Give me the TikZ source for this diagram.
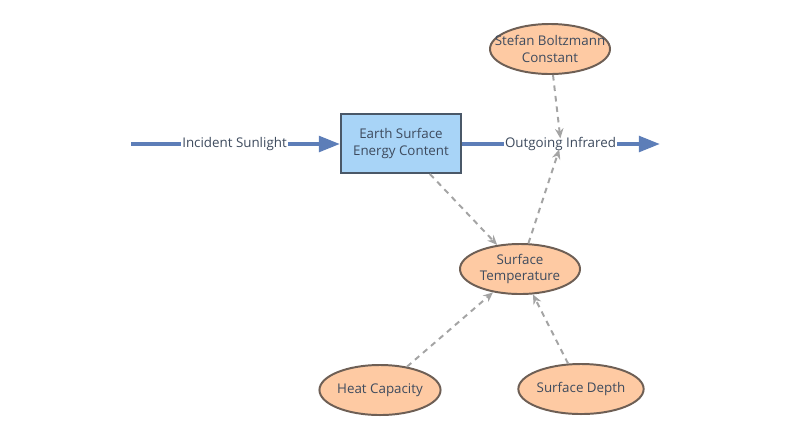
\documentclass[tikz,border=0pt]{standalone}
\usepackage{fontspec}
\setmainfont{Open Sans}
\usetikzlibrary{arrows.meta,shapes.geometric}

\definecolor{stockfill}{HTML}{A8D4F7}
\definecolor{stockline}{HTML}{4A5868}
\definecolor{auxfill}{HTML}{FECAA3}
\definecolor{auxline}{HTML}{6E5F55}
\definecolor{flowcol}{HTML}{5D7EB8}
\definecolor{linkcol}{HTML}{A4A4A4}
\definecolor{txt}{HTML}{3E4B5E}

\tikzset{
	stock/.style={draw=stockline, fill=stockfill, line width=1.4pt, minimum width=3cm, minimum height=1.475cm, align=center, text=txt, font=\fontsize{9.5}{12}\selectfont},
	aux/.style={ellipse, draw=auxline, fill=auxfill, line width=1.4pt, minimum width=3cm, minimum height=1.25cm, inner sep=0pt, align=center, text=txt, font=\fontsize{9.5}{12}\selectfont},
	flow/.style={draw=flowcol, line width=2.8pt, -{Triangle[length=15pt,width=11pt]}},
	flowlabel/.style={fill=white, inner sep=1pt, text=txt, font=\fontsize{9.5}{12}\selectfont},
	link/.style={draw=linkcol, line width=1.4pt, dash pattern=on 4pt off 3.5pt, -{Stealth[length=7pt,width=6pt]}}
}

\begin{document}
\begin{tikzpicture}[x=0.025cm,y=-0.025cm]
		%%%%% START %%%%%
		
		\useasboundingbox (0, 0) rectangle (800, 436);
		
		\node[stock] (energy) at (401, 143.5) {Earth Surface\\Energy Content};
		
		\node[aux] (sbc) at (550, 49) {\makebox[1.6cm]{Stefan Boltzmann}\\Constant};
		\node[aux] (temp) at (520, 269) {Surface\\Temperature};
		\node[aux] (heatcap) at (380, 390) {Heat Capacity};
		\node[aux] (depth) at (581, 389) {Surface Depth};
		
		\coordinate (source) at (131, 144);
		\coordinate (sink) at (660, 144);
		\coordinate (outvalve) at (561, 144);
		
		\draw[flow] (source) -- (energy.west |- source);
		\draw[flow] (energy.east |- sink) -- (sink);
		\node[flowlabel] (insun) at (234.5, 144) {Incident Sunlight};
		\node[flowlabel] (outir) at (560.5, 144) {Outgoing Infrared};
		
		\draw[link, shorten >=4pt] (sbc) -- (outvalve);
		\draw[link, shorten >=4pt] (temp) -- (outvalve);
		\draw[link] (energy) -- (temp);
		\draw[link] (heatcap) -- (temp);
		\draw[link] (depth) -- (temp);
		
		%%%%% END %%%%%
	\end{tikzpicture}
\end{document}
